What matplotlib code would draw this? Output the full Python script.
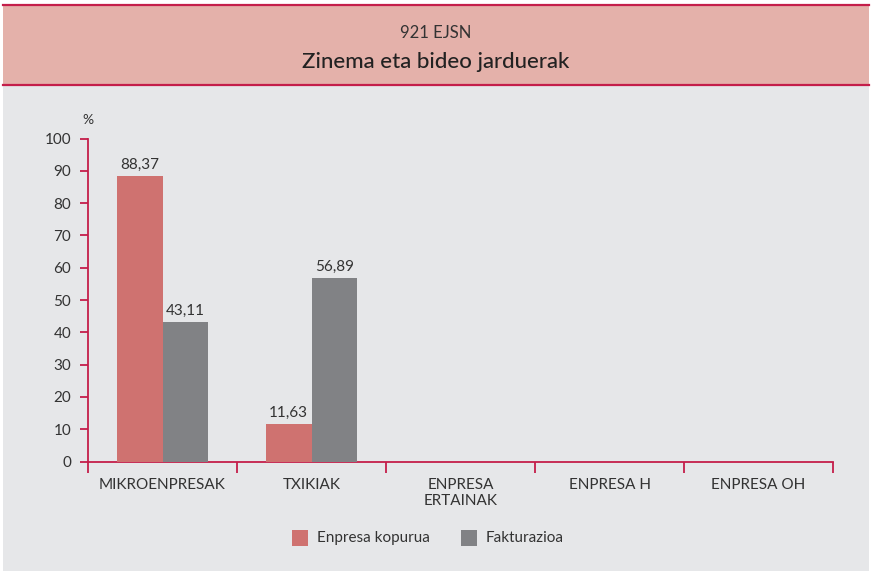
import matplotlib
matplotlib.use("Agg")
import matplotlib.pyplot as plt
from matplotlib.patches import Rectangle
import numpy as np

categories = ["MIKROENPRESAK", "TXIKIAK", "ENPRESA\nERTAINAK", "ENPRESA H", "ENPRESA OH"]
enpresa_kopurua = [88.37, 11.63, None, None, None]
fakturazioa = [43.11, 56.89, None, None, None]
series_names = ["Enpresa kopurua", "Fakturazioa"]
subtitle = "921 EJSN"
title = "Zinema eta bideo jarduerak"
yticks = [0, 10, 20, 30, 40, 50, 60, 70, 80, 90, 100]

W, H = 871, 573
FONT = ["Liberation Sans Narrow", "Lato", "DejaVu Sans"]
plt.rcParams["font.family"] = FONT

PINK = "#cf7270"
GRAY = "#818285"
CRIMSON = "#c41e4a"
BG = "#e6e7e9"
HEADER = "#e4b1aa"
TXT = "#333333"

fig = plt.figure(figsize=(W / 100, H / 100), dpi=100)
fig.patch.set_facecolor("white")

def fx(px):
    return px / W

def fy(py):
    return 1 - py / H

# panel background and header band
fig.patches.append(Rectangle((fx(3), fy(571)), fx(866), (571 - 85) / H,
                             transform=fig.transFigure, facecolor=BG, edgecolor="none", zorder=0))
fig.patches.append(Rectangle((fx(3), fy(85)), fx(866), (85 - 5) / H,
                             transform=fig.transFigure, facecolor=HEADER, edgecolor="none", zorder=1))
for yy in (5, 85):
    fig.add_artist(plt.Line2D([fx(3), fx(869)], [fy(yy), fy(yy)], transform=fig.transFigure,
                              color=CRIMSON, lw=1.6, zorder=2))

fig.text(0.5, fy(33), subtitle, ha="center", va="center", fontsize=12, color=TXT)
fig.text(0.5, fy(62), title, ha="center", va="center", fontsize=16, color="#222222",
         fontweight="medium")

# plotting area
left, right, top, bottom = 88, 833, 138.5, 461.5
ax = fig.add_axes([fx(left), fy(bottom), fx(right - left), (bottom - top) / H])
ax.set_zorder(5)
ax.set_facecolor("none")
ax.patch.set_alpha(0)
ax.set_xlim(-0.5, len(categories) - 0.5)
ax.set_ylim(0, 100)

x = np.arange(len(categories))
bw = 0.305
for vals, color, off in ((enpresa_kopurua, PINK, -bw / 2), (fakturazioa, GRAY, bw / 2)):
    for xi, v in zip(x, vals):
        if v is None:
            continue
        ax.bar(xi + off, v, width=bw, color=color, zorder=3)
        ax.text(xi + off, v + 1.2, f"{v:.2f}".replace(".", ","), ha="center", va="bottom",
                fontsize=11, color=TXT)

for s in ("top", "right"):
    ax.spines[s].set_visible(False)
for s in ("left", "bottom"):
    ax.spines[s].set_color(CRIMSON)
    ax.spines[s].set_linewidth(1.3)

ax.set_yticks(yticks)
ax.set_yticklabels([str(t) for t in yticks], fontsize=11, color=TXT)
ax.tick_params(axis="y", length=6, width=1.3, color=CRIMSON, pad=6)

ax.set_xticks(np.arange(len(categories) + 1) - 0.5, minor=False)
ax.set_xticklabels([])
ax.tick_params(axis="x", length=8, width=1.3, color=CRIMSON, direction="out")
for xi, c in zip(x, categories):
    ax.text(xi, -5.0, c, ha="center", va="top", fontsize=11, color=TXT, linespacing=1.25)

ax.text(-0.5, 104, "%", ha="center", va="bottom", fontsize=10, color=TXT)

# legend
ly = 538
for px, color, name in ((292, PINK, series_names[0]), (461, GRAY, series_names[1])):
    fig.patches.append(Rectangle((fx(px), fy(ly + 8)), fx(16), 16 / H, transform=fig.transFigure,
                                 facecolor=color, edgecolor="none", zorder=3))
    fig.text(fx(px + 25), fy(ly), name, ha="left", va="center", fontsize=11, color=TXT)

fig.savefig("out.png", dpi=100, facecolor=fig.get_facecolor())
